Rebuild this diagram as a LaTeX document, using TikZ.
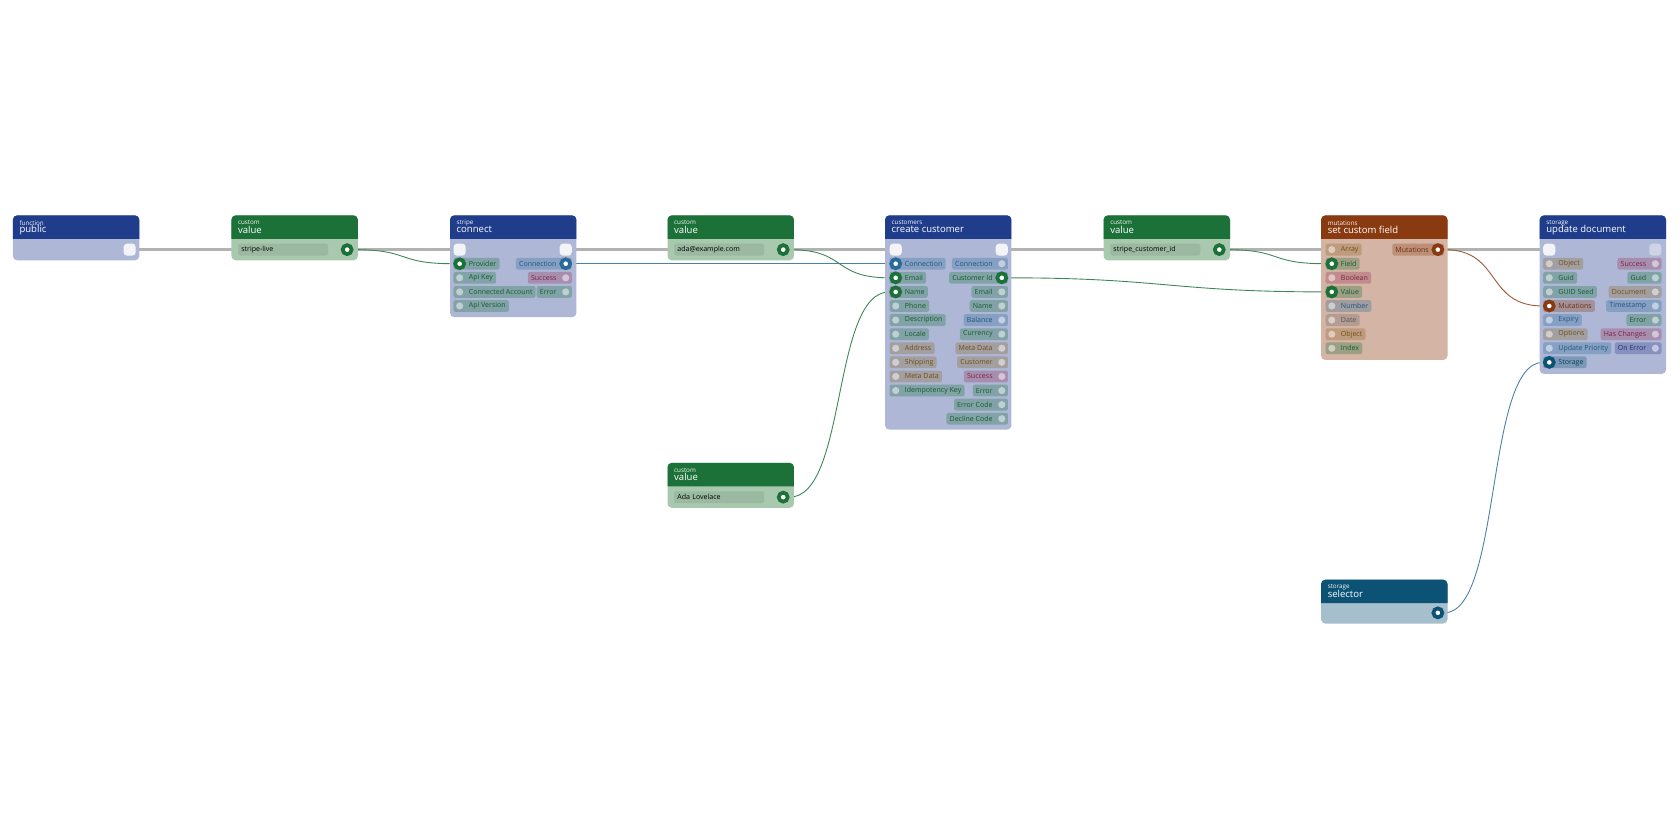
\documentclass[tikz,border=0pt]{standalone}
\usepackage{fontspec}
\setmainfont{Open Sans}
\usetikzlibrary{positioning,backgrounds}
\definecolor{hblue}{HTML}{1F3D8A}\definecolor{bblue}{HTML}{AEB8D6}
\definecolor{hgreen}{HTML}{1C7139}\definecolor{bgreen}{HTML}{A8C9AE}
\definecolor{hbrown}{HTML}{8A3A10}\definecolor{bbrown}{HTML}{D4B4A4}
\definecolor{hteal}{HTML}{0B5275}\definecolor{bteal}{HTML}{A6BFCC}
\definecolor{cg}{HTML}{1C7139}\definecolor{cb}{HTML}{2A6A9A}
\definecolor{cr}{HTML}{9A2E55}\definecolor{ct}{HTML}{8A6420}
\definecolor{ca}{HTML}{6A6A6A}\definecolor{cm}{HTML}{8A3A10}
\definecolor{cs}{HTML}{0B5275}\definecolor{ci}{HTML}{2A3A8A}
\newcommand\chipfont{\fontsize{5.6}{6}\selectfont}
\tikzset
{
    chip/.style  = {fill=c#1, fill opacity=.3, text=c#1!80!black, text opacity=1, rounded corners=0.6mm, minimum height=3.3mm, inner xsep=0.9mm, inner ysep=0, font=\chipfont},
    pin/.style   = {circle, inner sep=0, minimum size=2mm, fill=white, fill opacity=.5},
    hot/.style   = {circle, inner sep=0, minimum size=2.5mm, fill=white, draw=c#1, line width=1.05mm},
    exec/.style  = {rounded corners=1mm, inner sep=0, minimum size=3.4mm, fill=white, fill opacity=.85},
    field/.style = {fill=black, fill opacity=.08, text opacity=1, rounded corners=0.6mm, minimum height=3.3mm, minimum width=25.2mm, inner xsep=0.9mm, inner ysep=0, font=\chipfont, text=black, align=left, text width=23.4mm},
    wire/.style  = {line width=0.25mm, draw=c#1!85!white},
    flow/.style  = {line width=0.9mm, draw=black!30}
}
% box: name, x, top, bottom, kind, subtitle, title
\newcommand\flowbox[7]{%
  \fill[b#5, rounded corners=1.2mm] (#2,#3) rectangle ++(118,#4-#3);
  \fill[h#5] (#2,#3+22) [rounded corners=1.2mm] -- (#2,#3) -- (#2+118,#3) [sharp corners] -- (#2+118,#3+22) -- cycle;
  \node (#1) [anchor=west, inner sep=0, text=white!85!b#5, font=\fontsize{5}{5}\selectfont] at (#2+6,#3+7) {#6};
  \node (#1-t) [anchor=west, inner sep=0, text=white, font=\fontsize{7.6}{8}\selectfont] at (#2+6,#3+13.5) {#7};}
\newcommand\lpin[6][pin]{%
  \node[chip=#5, anchor=west] at (#3-6,#4) {\kern3.4mm#6};
  \node[#1=#5] (#2) at (#3,#4) {};}
\newcommand\rpin[6][pin]{%
  \node[chip=#5, anchor=east] at (#3+6,#4) {#6\kern3.4mm};
  \node[#1=#5] (#2) at (#3,#4) {};}
\newcommand\rowy[1]{233+13.15*#1}

\begin{document}
\begin{tikzpicture}[x=0.3mm, y=-0.3mm]
\useasboundingbox (0,0) rectangle (1568,784);

% function / public
\flowbox{pub}{12}{201}{243}{blue}{function}{public}
\node[exec] (pub-out) at (121,233) {};

% custom values
\flowbox{live}{216}{201}{243}{green}{custom}{value}
\node[field, anchor=west] at (222,233) {stripe-live};
\node[hot=g] (live-out) at (324,233) {};
\flowbox{mail}{623}{201}{243}{green}{custom}{value}
\node[field, anchor=west] at (629,233) {ada@example.com};
\node[hot=g] (mail-out) at (731,233) {};
\flowbox{ada}{623}{432}{474}{green}{custom}{value}
\node[field, anchor=west] at (629,464) {Ada Lovelace};
\node[hot=g] (ada-out) at (731,464) {};
\flowbox{cid}{1030}{201}{243}{green}{custom}{value}
\node[field, anchor=west] at (1036,233) {stripe\_customer\_id};
\node[hot=g] (cid-out) at (1138,233) {};

% stripe / connect
\flowbox{con}{420}{201}{296}{blue}{stripe}{connect}
\node[exec] (con-in) at (429,233) {};
\node[exec] (con-out) at (528,233) {};
\lpin[hot]{con-prov}{429}{\rowy1}{g}{Provider}
\lpin{con-key}{429}{\rowy2}{g}{Api Key}
\lpin{con-acc}{429}{\rowy3}{g}{Connected Account}
\lpin{con-ver}{429}{\rowy4}{g}{Api Version}
\rpin[hot]{con-conn}{528}{\rowy1}{b}{Connection}
\rpin{con-ok}{528}{\rowy2}{r}{Success}
\rpin{con-err}{528}{\rowy3}{g}{Error}

% customers / create customer
\flowbox{cc}{826}{201}{401}{blue}{customers}{create customer}
\node[exec] (cc-in) at (836,233) {};
\node[exec] (cc-out) at (935,233) {};
\lpin[hot]{cc-conn}{836}{\rowy1}{b}{Connection}
\lpin[hot]{cc-email}{836}{\rowy2}{g}{Email}
\lpin[hot]{cc-name}{836}{\rowy3}{g}{Name}
\lpin{cc-phone}{836}{\rowy4}{g}{Phone}
\lpin{cc-desc}{836}{\rowy5}{g}{Description}
\lpin{cc-loc}{836}{\rowy6}{g}{Locale}
\lpin{cc-addr}{836}{\rowy7}{t}{Address}
\lpin{cc-ship}{836}{\rowy8}{t}{Shipping}
\lpin{cc-meta}{836}{\rowy9}{t}{Meta Data}
\lpin{cc-idem}{836}{\rowy{10}}{g}{Idempotency Key}
\rpin{cc-oconn}{935}{\rowy1}{b}{Connection}
\rpin[hot]{cc-id}{935}{\rowy2}{g}{Customer Id}
\rpin{cc-oemail}{935}{\rowy3}{g}{Email}
\rpin{cc-oname}{935}{\rowy4}{g}{Name}
\rpin{cc-bal}{935}{\rowy5}{b}{Balance}
\rpin{cc-cur}{935}{\rowy6}{g}{Currency}
\rpin{cc-ometa}{935}{\rowy7}{t}{Meta Data}
\rpin{cc-cust}{935}{\rowy8}{t}{Customer}
\rpin{cc-ok}{935}{\rowy9}{r}{Success}
\rpin{cc-err}{935}{\rowy{10}}{g}{Error}
\rpin{cc-code}{935}{\rowy{11}}{g}{Error Code}
\rpin{cc-decl}{935}{\rowy{12}}{g}{Decline Code}

% mutations / set custom field
\flowbox{scf}{1233}{201}{336}{brown}{mutations}{set custom field}
\lpin{scf-arr}{1243}{\rowy0}{t}{Array}
\lpin[hot]{scf-field}{1243}{\rowy1}{g}{Field}
\lpin{scf-bool}{1243}{\rowy2}{r}{Boolean}
\lpin[hot]{scf-val}{1243}{\rowy3}{g}{Value}
\lpin{scf-num}{1243}{\rowy4}{b}{Number}
\lpin{scf-date}{1243}{\rowy5}{a}{Date}
\lpin{scf-obj}{1243}{\rowy6}{t}{Object}
\lpin{scf-idx}{1243}{\rowy7}{g}{Index}
\rpin[hot]{scf-mut}{1342}{\rowy0}{m}{Mutations}

% storage / update document
\flowbox{ud}{1437}{201}{349}{blue}{storage}{update document}
\node[exec] (ud-in) at (1446,233) {};
\node[exec, fill opacity=.4] (ud-out) at (1545,233) {};
\lpin{ud-obj}{1446}{\rowy1}{t}{Object}
\lpin{ud-guid}{1446}{\rowy2}{g}{Guid}
\lpin{ud-seed}{1446}{\rowy3}{g}{GUID Seed}
\lpin[hot]{ud-mut}{1446}{\rowy4}{m}{Mutations}
\lpin{ud-exp}{1446}{\rowy5}{b}{Expiry}
\lpin{ud-opt}{1446}{\rowy6}{t}{Options}
\lpin{ud-prio}{1446}{\rowy7}{b}{Update Priority}
\lpin[hot]{ud-store}{1446}{\rowy8}{s}{Storage}
\rpin{ud-ok}{1545}{\rowy1}{r}{Success}
\rpin{ud-oguid}{1545}{\rowy2}{g}{Guid}
\rpin{ud-doc}{1545}{\rowy3}{t}{Document}
\rpin{ud-ts}{1545}{\rowy4}{b}{Timestamp}
\rpin{ud-err}{1545}{\rowy5}{g}{Error}
\rpin{ud-chg}{1545}{\rowy6}{r}{Has Changes}
\rpin{ud-onerr}{1545}{\rowy7}{i}{On Error}

% storage / selector
\flowbox{sel}{1233}{541}{582}{teal}{storage}{selector}
\node[hot=s] (sel-out) at (1342,572) {};

\begin{scope}[on background layer]
\draw[flow] (pub-out) -- (con-in);
\draw[flow] (con-out) -- (cc-in);
\draw[flow] (cc-out) -- (ud-in);
\draw[wire=g] (live-out) .. controls +(60,0) and +(-60,0) .. (con-prov);
\draw[wire=b] (con-conn) -- (cc-conn);
\draw[wire=g] (mail-out) .. controls +(60,0) and +(-60,0) .. (cc-email);
\draw[wire=g] (ada-out) .. controls +(60,0) and +(-60,0) .. (cc-name);
\draw[wire=g] (cc-id) .. controls +(150,0) and +(-150,0) .. (scf-val);
\draw[wire=g] (cid-out) .. controls +(60,0) and +(-60,0) .. (scf-field);
\draw[wire=m] (scf-mut) .. controls +(60,0) and +(-60,0) .. (ud-mut);
\draw[wire=b] (sel-out) .. controls +(60,0) and +(-60,0) .. (ud-store);
\end{scope}
\end{tikzpicture}
\end{document}
